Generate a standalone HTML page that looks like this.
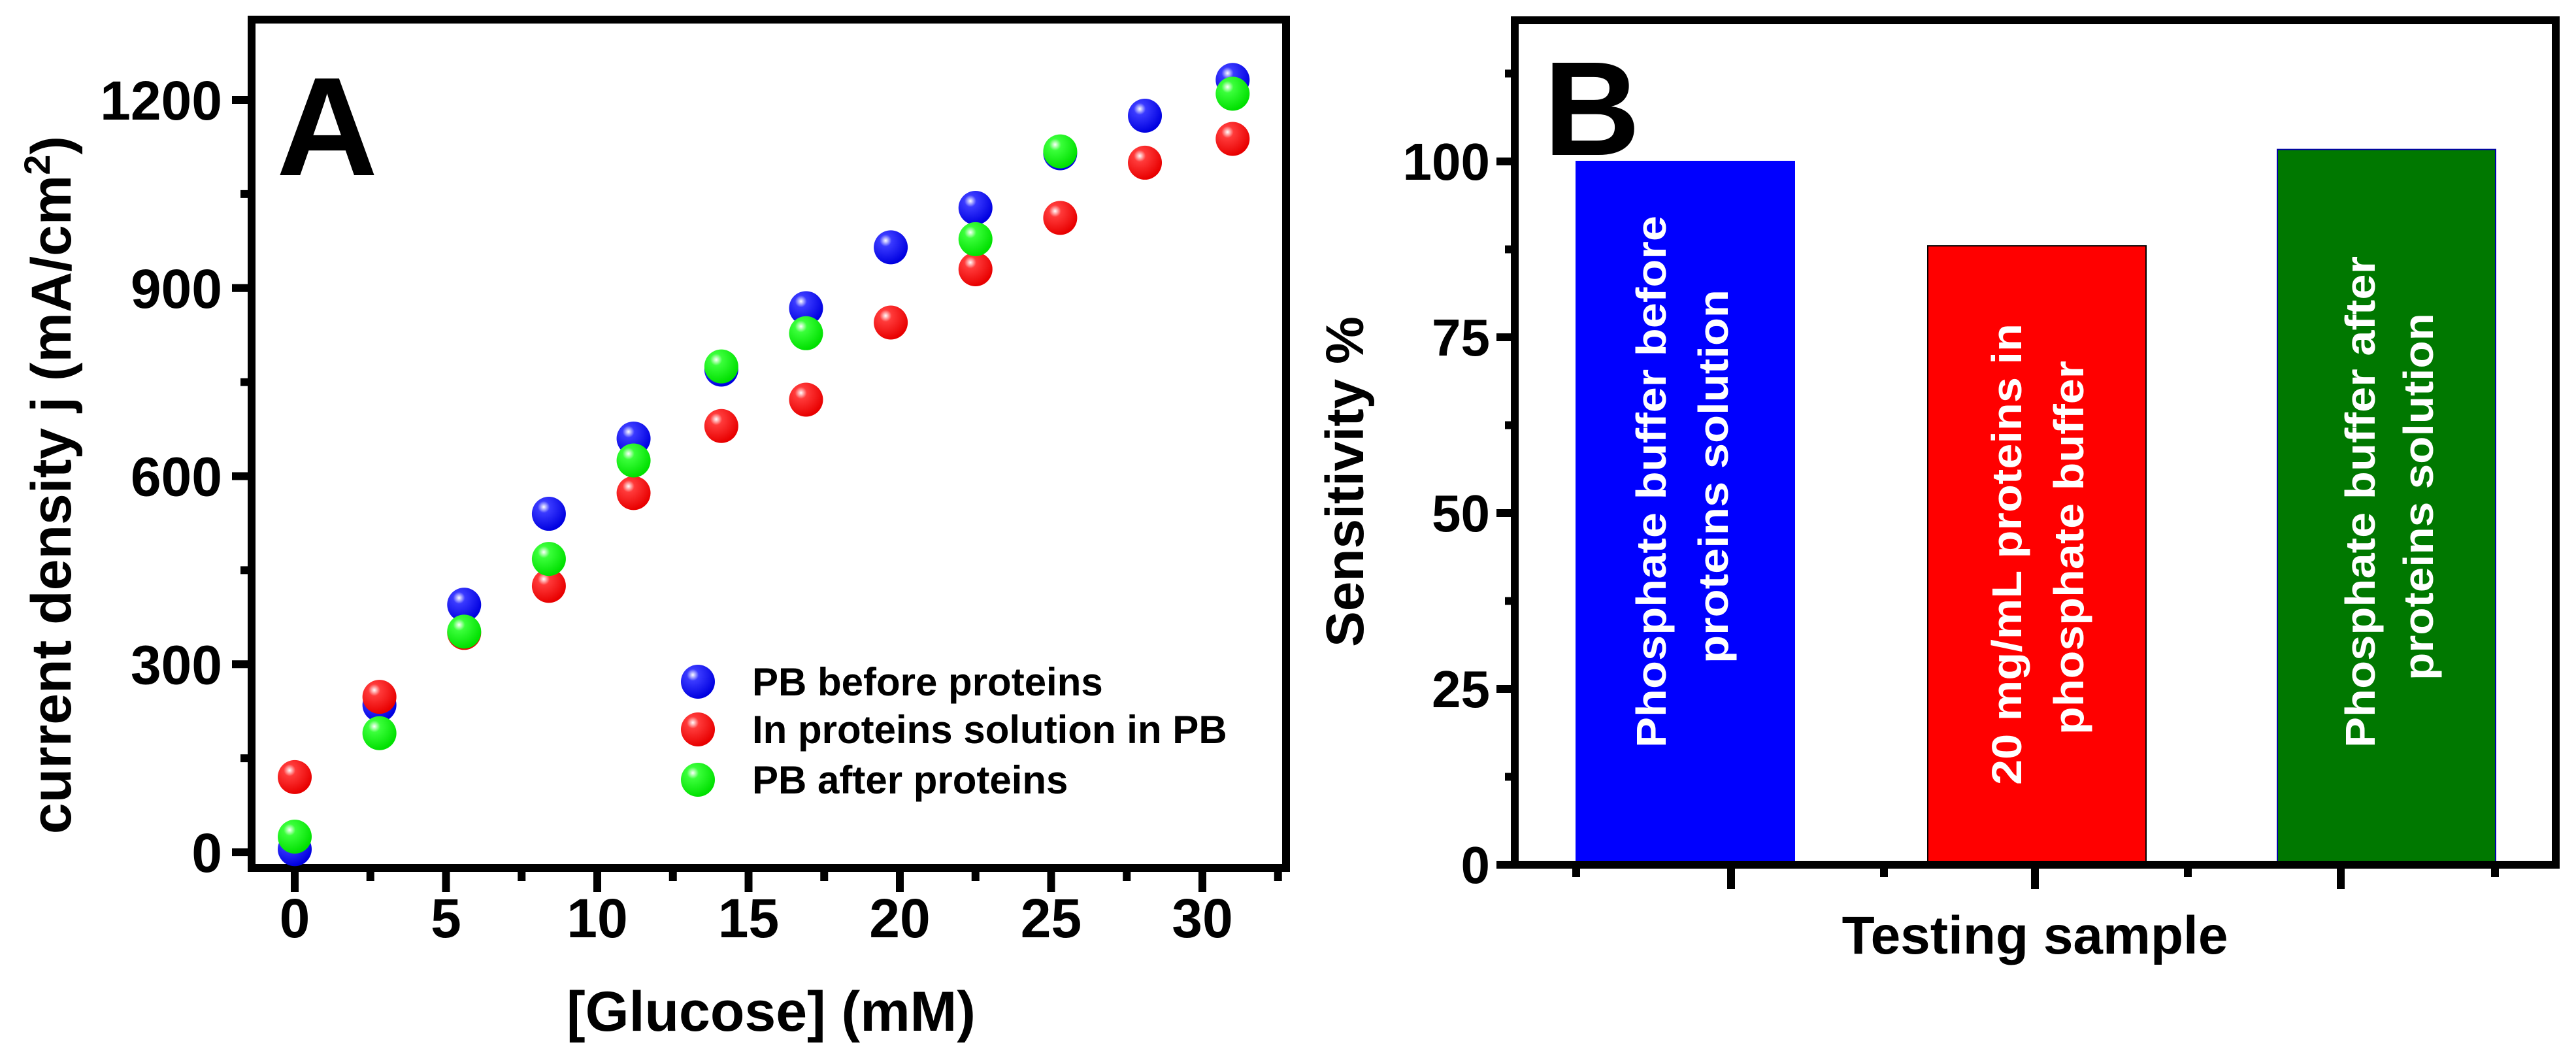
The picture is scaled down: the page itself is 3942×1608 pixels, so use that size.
<!DOCTYPE html>
<html><head><meta charset="utf-8">
<style>
html,body{margin:0;padding:0;background:#fff;}
svg{display:block;font-family:"Liberation Sans",Arial,sans-serif;font-weight:bold;}
</style></head>
<body>
<svg id="chart" width="3942" height="1608" viewBox="0 0 3942 1608" xmlns="http://www.w3.org/2000/svg">
<defs>
<radialGradient id="gb" cx="0.35" cy="0.3" r="0.7"><stop offset="0" stop-color="#fff"/><stop offset="0.25" stop-color="#3a3aff"/><stop offset="1" stop-color="#0000e0"/></radialGradient>
<radialGradient id="gr" cx="0.35" cy="0.3" r="0.7"><stop offset="0" stop-color="#fff"/><stop offset="0.25" stop-color="#ff3a3a"/><stop offset="1" stop-color="#e80000"/></radialGradient>
<radialGradient id="gg" cx="0.35" cy="0.3" r="0.7"><stop offset="0" stop-color="#fff"/><stop offset="0.25" stop-color="#3aff3a"/><stop offset="1" stop-color="#00e000"/></radialGradient>
</defs>
<g id="panelA"></g>
<g id="panelB"></g>
</svg>
<script>
// Panel A data
const glucose = [0, 2.8, 5.6, 8.4, 11.2, 14.1, 16.9, 19.7, 22.5, 25.3, 28.1, 31.0];
const pbBefore = [5, 235, 395, 540, 660, 770, 868, 965, 1028, 1115, 1175, 1232];
const inProteins = [120, 248, 350, 425, 573, 680, 722, 845, 930, 1012, 1100, 1138];
const pbAfter = [25, 190, 352, 468, 625, 775, 828, null, 978, 1118, null, 1210];
const yTicksA = [0, 300, 600, 900, 1200];
const xTicksA = [0, 5, 10, 15, 20, 25, 30];
// Panel B data
const samples = ["blue", "red", "green"];
const sensitivity = [100, 88, 101.7];
const yTicksB = [0, 25, 50, 75, 100];

const NS = "http://www.w3.org/2000/svg";
function mk(tag, attrs, parent, text) {
  const e = document.createElementNS(NS, tag);
  for (const k in attrs) e.setAttribute(k, attrs[k]);
  if (text !== undefined) e.textContent = text;
  parent.appendChild(e);
  return e;
}
// ---------- Panel A ----------
const A = document.getElementById("panelA");
const ax = v => 451 + (v - 0) * (1840 - 451) / 30;
const ay = v => 1304 - v * (1304 - 153) / 1200;
let fr = mk("rect", {x:385, y:30, width:1583, height:1298, fill:"none", stroke:"#000", "stroke-width":12}, A);


for (let v = 0; v <= 1350; v += 150) {
  if (ay(v) < 36) continue;
  const major = v % 300 === 0;
  let t = mk("line", {x1:385, x2:major?355:368, y1:ay(v), y2:ay(v), stroke:"#000", "stroke-width":12}, A);
  
  
}
yTicksA.forEach(v => {
  let t = mk("text", {x:340, y:ay(v)+30, "text-anchor":"end", "font-size":84}, A, String(v));
  
  
});
for (let v = 0; v <= 32.5; v += 2.5) {
  const major = v % 5 === 0;
  let t = mk("line", {x1:ax(v), x2:ax(v), y1:1328, y2:major?1365:1348, stroke:"#000", "stroke-width":12}, A);
  
  
}
xTicksA.forEach(v => {
  let t = mk("text", {x:ax(v), y:1434, "text-anchor":"middle", "font-size":84}, A, String(v));
  
  
});
let xl = mk("text", {x:1180, y:1577, "text-anchor":"middle", "font-size":86}, A, "[Glucose] (mM)");


let yl = mk("text", {x:0, y:0, "text-anchor":"middle", "font-size":86, transform:"translate(108,742) rotate(-90)"}, A);


yl.appendChild(document.createTextNode("current density j (mA/cm"));
mk("tspan", {dy:-32, "font-size":56}, yl, "2");
mk("tspan", {dy:32}, yl, ")");
let la = mk("text", {x:423, y:268, "font-size":215}, A, "A");


const series = [[pbBefore, "url(#gb)", "series-pb-before"], [inProteins, "url(#gr)", "series-in-proteins"], [pbAfter, "url(#gg)", "series-pb-after"]];
series.forEach(([vals, fill, name]) => {
  vals.forEach((v, i) => {
    if (v === null) return;
    let c = mk("circle", {cx:ax(glucose[i]), cy:ay(v), r:26, fill:fill}, A);
    
    
  });
});
const legendNames = ["PB before proteins", "In proteins solution in PB", "PB after proteins"];
const legendFills = ["url(#gb)", "url(#gr)", "url(#gg)"];
const legendY = [1043, 1116, 1193];
legendNames.forEach((n, i) => {
  let c = mk("circle", {cx:1068, cy:legendY[i], r:26, fill:legendFills[i]}, A);
  
  
  let t = mk("text", {x:1151, y:legendY[i]+21, "font-size":60}, A, n);
  
  
});
// ---------- Panel B ----------
const B = document.getElementById("panelB");
const by = v => 1323 - v * (1323 - 247) / 100;
const barX = [2412, 2950, 3485];
const barW = 334;
const barFill = ["#0000ff", "#ff0000", "#007800"];
const barStroke = ["#0000ff", "#000", "#0000aa"];
sensitivity.forEach((v, i) => {
  let r = mk("rect", {x:barX[i], y:by(v), width:barW, height:by(0)-by(v), fill:barFill[i], stroke:barStroke[i], "stroke-width":2}, B);
  
  
});
let frb = mk("rect", {x:2318, y:31, width:1593, height:1292, fill:"none", stroke:"#000", "stroke-width":12}, B);


for (let v = 0; v <= 112.5; v += 12.5) {
  const major = v % 25 === 0;
  let t = mk("line", {x1:2318, x2:major?2290:2303, y1:by(v), y2:by(v), stroke:"#000", "stroke-width":12}, B);
  
  
}
yTicksB.forEach(v => {
  let t = mk("text", {x:2280, y:by(v)+28, "text-anchor":"end", "font-size":80}, B, String(v));
  
  
});
[2412, 2649, 2883, 3114, 3348, 3582, 3818].forEach((x, i) => {
  let t = mk("line", {x1:x, x2:x, y1:1323, y2:i%2 ? 1360 : 1342, stroke:"#000", "stroke-width":12}, B);
  
  
});
let xlb = mk("text", {x:3114, y:1459, "text-anchor":"middle", "font-size":82}, B, "Testing sample");


let ylb = mk("text", {x:0, y:0, "text-anchor":"middle", "font-size":82, transform:"translate(2086,737) rotate(-90)"}, B, "Sensitivity %");


let lb = mk("text", {x:2362, y:237, "font-size":205}, B, "B");


const barLabels = [
  [["Phosphate buffer before", 2526, 737, 814], ["proteins solution", 2621, 729, 572]],
  [["20 mg/mL proteins in", 3070, 848, 706], ["phosphate buffer", 3165, 838, 572]],
  [["Phosphate buffer after", 3611, 768, 752], ["proteins solution", 3700, 760, 562]]
];
barLabels.forEach((lines, i) => {
  lines.forEach(([s, x, cy, len]) => {
    let t = mk("text", {x:0, y:0, "text-anchor":"middle", "font-size":64, fill:"#fff", textLength:len, lengthAdjust:"spacingAndGlyphs", transform:`translate(${x+23},${cy}) rotate(-90)`}, B, s);
    
    
  });
});
</script>
</body></html>
